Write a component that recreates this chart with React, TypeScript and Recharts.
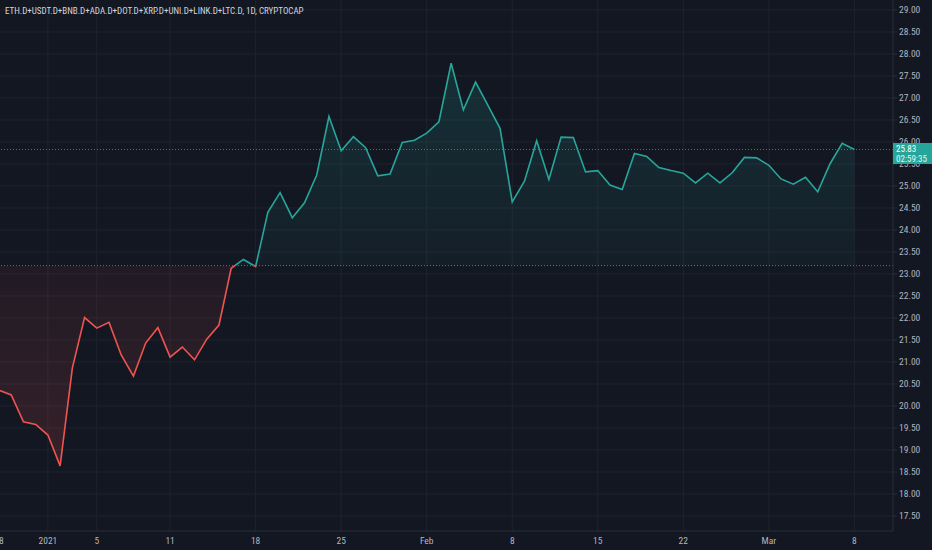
import React from "react";
import {
  ComposedChart,
  Area,
  XAxis,
  YAxis,
  CartesianGrid,
  ReferenceLine,
} from "recharts";

// Daily values, Dec 28 2020 (index 0) .. Mar 8 2021 (index 70)
const values: number[] = [
  20.36, 20.25, 19.64, 19.58, 19.34, 18.64, 20.86, 22.01, 21.77, 21.9,
  21.16, 20.68, 21.43, 21.78, 21.11, 21.34, 21.05, 21.52, 21.84, 23.13,
  23.33, 23.17, 24.4, 24.85, 24.28, 24.62, 25.25, 26.58, 25.8, 26.12,
  25.87, 25.23, 25.27, 25.99, 26.04, 26.2, 26.46, 27.79, 26.73, 27.36,
  26.84, 26.31, 24.64, 25.11, 26.03, 25.15, 26.11, 26.1, 25.32, 25.35,
  25.02, 24.92, 25.74, 25.67, 25.42, 25.35, 25.29, 25.07, 25.29, 25.07,
  25.3, 25.65, 25.64, 25.47, 25.16, 25.04, 25.2, 24.87, 25.5, 25.97,
  25.83,
];

const xTickIndex: number[] = [0, 4, 8, 14, 21, 28, 35, 42, 49, 56, 63, 70];
const xTickLabels: string[] = [
  "28", "2021", "5", "11", "18", "25", "Feb", "8", "15", "22", "Mar", "8",
];

const yTicks: number[] = [
  17.5, 18, 18.5, 19, 19.5, 20, 20.5, 21, 21.5, 22, 22.5, 23, 23.5, 24,
  24.5, 25, 25.5, 26, 26.5, 27, 27.5, 28, 28.5, 29,
];

const baseline = 23.19;
const lastPrice = 25.83;
const countdown = "02:59:35";
const title =
  "ETH.D+USDT.D+BNB.D+ADA.D+DOT.D+XRP.D+UNI.D+LINK.D+LTC.D, 1D, CRYPTOCAP";

const data = values.map((v, i) => ({ i, v }));

const maxV = Math.max(...values);
const minV = Math.min(...values);
const off = (maxV - baseline) / (maxV - minV);

const FONT =
  "'Liberation Sans Narrow', 'Arial Narrow', 'Roboto Condensed', 'DejaVu Sans Condensed', sans-serif";
const BG = "#131722";
const GREEN = "#26a69a";
const RED = "#ef5350";
const TXT = "#b2b5be";
const GRID = "#1f232e";
const BORDER = "#2a2e39";

export default function App() {
  return (
    <div
      style={{
        position: "relative",
        width: 932,
        height: 550,
        background: BG,
        overflow: "hidden",
      }}
    >
      <style>{`html,body{margin:0;padding:0;background:${BG};}`}</style>
      <ComposedChart
        width={932}
        height={550}
        data={data}
        margin={{ top: 0, right: 0, bottom: 0, left: 0 }}
      >
        <defs>
          <linearGradient id="strokeSplit" x1="0" y1="0" x2="0" y2="1">
            <stop offset={off} stopColor={GREEN} />
            <stop offset={off} stopColor={RED} />
          </linearGradient>
          <linearGradient id="fillSplit" x1="0" y1="0" x2="0" y2="1">
            <stop offset={0} stopColor={GREEN} stopOpacity={0.18} />
            <stop offset={off} stopColor={GREEN} stopOpacity={0.05} />
            <stop offset={off} stopColor={RED} stopOpacity={0.06} />
            <stop offset={1} stopColor={RED} stopOpacity={0.16} />
          </linearGradient>
        </defs>
        <CartesianGrid
          stroke={GRID}
          strokeWidth={1}
          horizontalValues={yTicks}
          verticalValues={xTickIndex}
        />
        <XAxis
          type="number"
          dataKey="i"
          domain={[0.08, 73.16]}
          allowDataOverflow
          ticks={xTickIndex}
          interval={0}
          tickFormatter={(t: number) => xTickLabels[xTickIndex.indexOf(t)] ?? ""}
          height={19}
          tickSize={4}
          tickMargin={2}
          tickLine={false}
          axisLine={{ stroke: BORDER }}
          tick={{ fill: TXT, fontSize: 9.5, fontFamily: FONT }}
        />
        <YAxis
          orientation="right"
          type="number"
          domain={[17.159, 29.227]}
          allowDataOverflow
          ticks={yTicks}
          interval={0}
          width={39}
          tickSize={4}
          tickMargin={2}
          tickFormatter={(t: number) => t.toFixed(2)}
          tickLine={{ stroke: BORDER }}
          axisLine={{ stroke: BORDER }}
          tick={{ fill: TXT, fontSize: 9.5, fontFamily: FONT, textAnchor: "start" }}
        />
        <ReferenceLine
          y={baseline}
          stroke="#6a6d78"
          strokeDasharray="1 2"
          strokeWidth={1}
        />
        <ReferenceLine
          y={lastPrice}
          stroke={GREEN}
          strokeOpacity={0.8}
          strokeDasharray="1 2"
          strokeWidth={1}
        />
        <Area
          type="linear"
          dataKey="v"
          baseValue={baseline}
          stroke="url(#strokeSplit)"
          strokeWidth={1.6}
          fill="url(#fillSplit)"
          fillOpacity={1}
          dot={false}
          activeDot={false}
          isAnimationActive={false}
        />
      </ComposedChart>
      <div
        style={{
          position: "absolute",
          left: 5,
          top: 5,
          fontFamily: FONT,
          fontSize: 9,
          color: "#d1d4dc",
          whiteSpace: "nowrap",
          lineHeight: "12px",
        }}
      >
        {title}
      </div>
      <div
        style={{
          position: "absolute",
          left: 893,
          top: 143,
          width: 39,
          height: 21,
          background: GREEN,
          fontFamily: FONT,
          fontSize: 9,
          lineHeight: "10px",
          color: "#ffffff",
          paddingLeft: 3,
          boxSizing: "border-box",
          paddingTop: 1,
          whiteSpace: "nowrap",
        }}
      >
        <div>{lastPrice.toFixed(2)}</div>
        <div style={{ color: "#e6f4f2" }}>{countdown}</div>
      </div>
    </div>
  );
}
